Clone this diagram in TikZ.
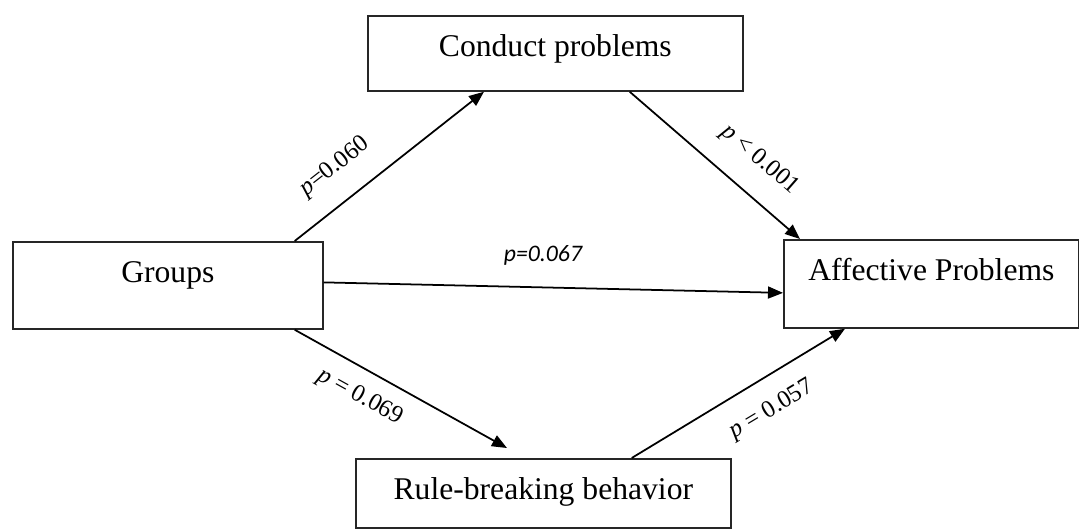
\documentclass[tikz,border=0pt]{standalone}
\usepackage{fontspec}
\setmainfont{Liberation Serif}
\newfontfamily\carlito{Carlito}
\usetikzlibrary{arrows.meta}

\begin{document}
\begin{tikzpicture}[
  x=0.02cm, y=-0.02cm,
  box/.style={draw=black!85, line width=1pt, inner sep=0pt, anchor=north west,
    text height=0.82cm, font=\fontsize{18}{21}\selectfont},
  plab/.style={inner sep=0pt, font=\rmfamily\upshape\fontsize{14}{16}\selectfont},
  path/.style={line width=1pt, -{Triangle[length=0.3cm, width=0.24cm]}}
]
  \useasboundingbox (0,0) rectangle (1079,529);

  % ==========================================
  % 1. BOXES
  % ==========================================
  \node[box, minimum width=7.5cm, text depth=0.68cm] (cond) at (367,15) {Conduct problems};
  \node[box, minimum width=6.2cm, text depth=0.92cm] (grp) at (12,241) {Groups};
  \node[box, minimum width=5.9cm, text depth=0.94cm] (aff) at (783,239) {Affective Problems};
  \node[box, minimum width=7.5cm, text depth=0.56cm] (rule) at (355,458) {Rule-breaking behavior};

  % ==========================================
  % 2. PATHS
  % ==========================================
  \draw[path] ([xshift=-0.58cm]grp.north east) -- ([xshift=2.34cm]cond.south west);
  \draw[path] ([xshift=-2.28cm]cond.south east) -- ([xshift=0.34cm]aff.north west);
  \draw[path] ([yshift=0.06cm]grp.east) -- ([yshift=-0.18cm]aff.west);
  \draw[path] ([xshift=-0.58cm]grp.south east) -- ([xshift=3.04cm, yshift=0.2cm]rule.north west);
  \draw[path] ([xshift=-2cm]rule.north east) -- ([xshift=1.24cm]aff.south west);

  % ==========================================
  % 3. P-VALUES
  % ==========================================
  \node[plab, rotate=38] (p1) at (335,167) {\textit{p}=0.060};
  \node[plab, rotate=-41] (p2) at (760,160) {\textit{p} < 0.001};
  \node[plab, font=\fontsize{13.5}{16}\carlito\itshape] (p3) at (543,255) {p=0.067};
  \node[plab, rotate=-29] (p4) at (360,397) {\textit{p} = 0.069};
  \node[plab, rotate=31] (p5) at (772,410) {\textit{p} = 0.057};

\end{tikzpicture}
\end{document}
